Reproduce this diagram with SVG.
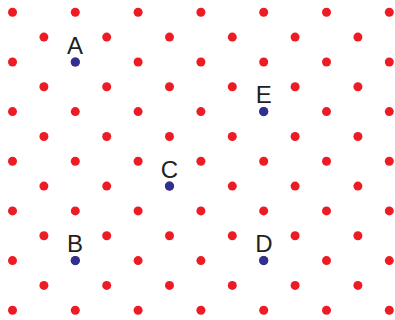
<svg xmlns="http://www.w3.org/2000/svg" xmlns:xlink="http://www.w3.org/1999/xlink" width="395" height="320" viewBox="0 0 395 320">
<style>
.r{fill:#ed1c24}
.b{fill:#2e3192}
.t{font-family:"Liberation Sans",Arial,sans-serif;font-size:24px;fill:#231f20;text-anchor:middle}
</style>
<defs>
<circle id="d" r="4.5" class="r"/>
<g id="even">
<use xlink:href="#d" x="12.5"/><use xlink:href="#d" x="75.3"/><use xlink:href="#d" x="138.1"/><use xlink:href="#d" x="200.9"/><use xlink:href="#d" x="263.7"/><use xlink:href="#d" x="326.5"/><use xlink:href="#d" x="389.3"/>
</g>
<g id="odd">
<use xlink:href="#d" x="43.9"/><use xlink:href="#d" x="106.7"/><use xlink:href="#d" x="169.5"/><use xlink:href="#d" x="232.3"/><use xlink:href="#d" x="295.1"/><use xlink:href="#d" x="357.9"/>
</g>
</defs>
<g id="lattice">
<use xlink:href="#even" y="12.3"/>
<use xlink:href="#odd" y="37.1"/>
<use xlink:href="#even" y="62"/>
<use xlink:href="#odd" y="86.8"/>
<use xlink:href="#even" y="111.6"/>
<use xlink:href="#odd" y="136.5"/>
<use xlink:href="#even" y="161.3"/>
<use xlink:href="#odd" y="186.1"/>
<use xlink:href="#even" y="210.9"/>
<use xlink:href="#odd" y="235.8"/>
<use xlink:href="#even" y="260.6"/>
<use xlink:href="#odd" y="285.4"/>
<use xlink:href="#even" y="310.3"/>
</g>
<g id="A"><circle cx="75.3" cy="62" r="4.6" class="b"/><text class="t" x="75" y="53.5">A</text></g>
<g id="E"><circle cx="263.7" cy="111.6" r="4.6" class="b"/><text class="t" x="263.8" y="103">E</text></g>
<g id="C"><circle cx="169.5" cy="186.1" r="4.6" class="b"/><text class="t" x="169.5" y="177.5">C</text></g>
<g id="B"><circle cx="75.3" cy="260.6" r="4.6" class="b"/><text class="t" x="75" y="252">B</text></g>
<g id="D"><circle cx="263.7" cy="260.6" r="4.6" class="b"/><text class="t" x="263.8" y="252">D</text></g>
</svg>
